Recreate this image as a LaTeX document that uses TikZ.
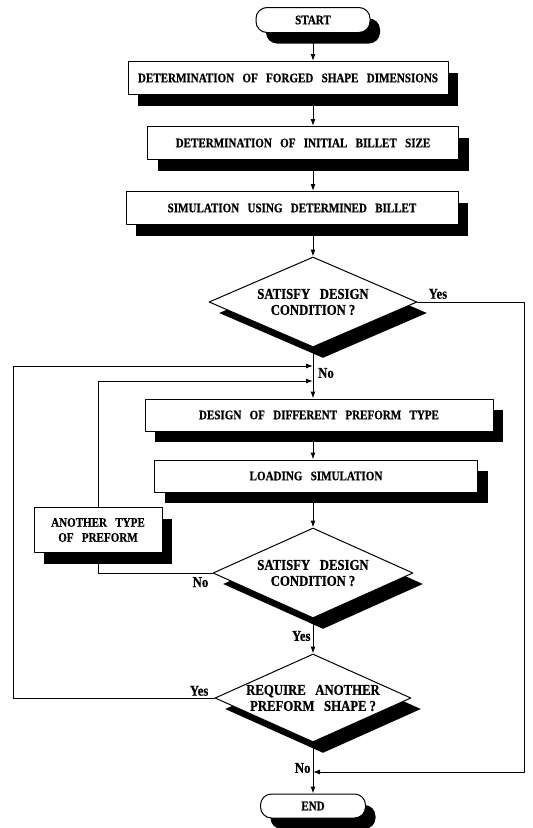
\documentclass[tikz,border=0pt]{standalone}
\usepackage{fontspec}
\setmainfont{Liberation Serif}[WordSpace=3,FakeStretch=0.85,FakeBold=0.6]
\usetikzlibrary{shapes.geometric,shadows,arrows.meta,positioning,calc}
\definecolor{FigureInk}{HTML}{000000}
\definecolor{FigurePaper}{HTML}{FFFFFF}

\begin{document}
\begin{tikzpicture}[x=1pt,y=-1pt,line cap=round,line join=round,
  shade/.style={drop shadow={shadow xshift=10pt,shadow yshift=-11pt,fill=FigureInk,opacity=1}},
  flowbox/.style={shade,draw=FigureInk,line width=1pt,fill=FigurePaper,minimum height=33pt,inner sep=2pt,font=\bfseries\fontsize{13}{15}\selectfont},
  term/.style={flowbox,rounded corners=11pt,minimum height=25pt},
  decide/.style={shade,diamond,draw=FigureInk,line width=1pt,fill=FigurePaper,inner sep=0pt},
  dtext/.style={align=center,font=\bfseries\fontsize{15}{16}\selectfont},
  tag/.style={font=\bfseries\fontsize{15}{16}\selectfont,inner sep=2pt},
  link/.style={line width=1pt,-{Latex[length=7pt,width=5pt]}},
  rail/.style={line width=1pt}]
  \useasboundingbox (0,0) rectangle (533,828);
  \node[term,minimum width=114pt] (start) at (313,20) {START};
  \node[flowbox,minimum width=320pt] (forged) at (288,78) {DETERMINATION OF FORGED SHAPE DIMENSIONS};
  \node[flowbox,minimum width=311pt] (billet) at (303,143) {DETERMINATION OF INITIAL BILLET SIZE};
  \node[flowbox,minimum width=332pt] (sim) at (292,208) {SIMULATION USING DETERMINED BILLET};
  \node[decide,minimum width=208pt,minimum height=90pt] (cond) at (313,302) {};
  \node[dtext] (condtxt) at (cond) {SATISFY DESIGN\\CONDITION\kern3pt?};
  \node[flowbox,minimum width=348pt,minimum height=32pt] (design) at (319,415) {DESIGN OF DIFFERENT PREFORM TYPE};
  \node[flowbox,minimum width=323pt,minimum height=32pt] (load) at (316,476) {LOADING SIMULATION};
  \node[flowbox,minimum width=128pt,minimum height=45pt,align=center] (retry) at (98,530) {ANOTHER TYPE\\OF PREFORM};
  \node[decide,minimum width=200pt,minimum height=90pt] (check) at (313,573) {};
  \node[dtext] (checktxt) at (check) {SATISFY DESIGN\\CONDITION\kern3pt?};
  \node[decide,minimum width=196pt,minimum height=88pt] (more) at (313,698) {};
  \node[dtext] (moretxt) at (more) {REQUIRE ANOTHER\\PREFORM SHAPE\kern3pt?};
  \node[term,minimum width=105pt,minimum height=24pt] (finish) at (313,806) {END};
  \coordinate (rightrail) at (524,772);\coordinate (merge) at (313,772);
  \coordinate (leftrail) at (13,366);\coordinate (upper) at (313,366);\coordinate (lower) at (313,381);

  \draw[link] (start) -- (start |- forged.north);
  \draw[link] (forged.south -| start) -- (start |- billet.north);
  \draw[link] (billet.south -| start) -- (start |- sim.north);
  \draw[link] (sim.south -| start) -- (cond.north);
  \draw[link] (cond.south) -- (start |- design.north);
  \draw[link] (design.south -| start) -- (start |- load.north);
  \draw[link] (load.south -| start) -- (check.north);
  \draw[link] (check.south) -- node[tag,left] {Yes} (more.north);
  \draw[link] (more.south) -- node[tag,left,pos=.5] {No} (finish.north);
  \draw[link] (cond.east) -| (rightrail) -- (merge);
  \draw[link] (more.west) -| (leftrail) -- (upper);
  \draw[rail] (check.west) -| (retry.south);
  \draw[link] (retry.north) |- (lower);
  \node[tag,above right=1pt and 9pt] at (cond.east) {Yes};
  \node[tag,right] at ($(cond.south)!.5!(design.north)$) {No};
  \node[tag,below left=2pt and 2pt] at (check.west) {No};
  \node[tag,above left=0pt and 4pt] at (more.west) {Yes};
\end{tikzpicture}
\end{document}
